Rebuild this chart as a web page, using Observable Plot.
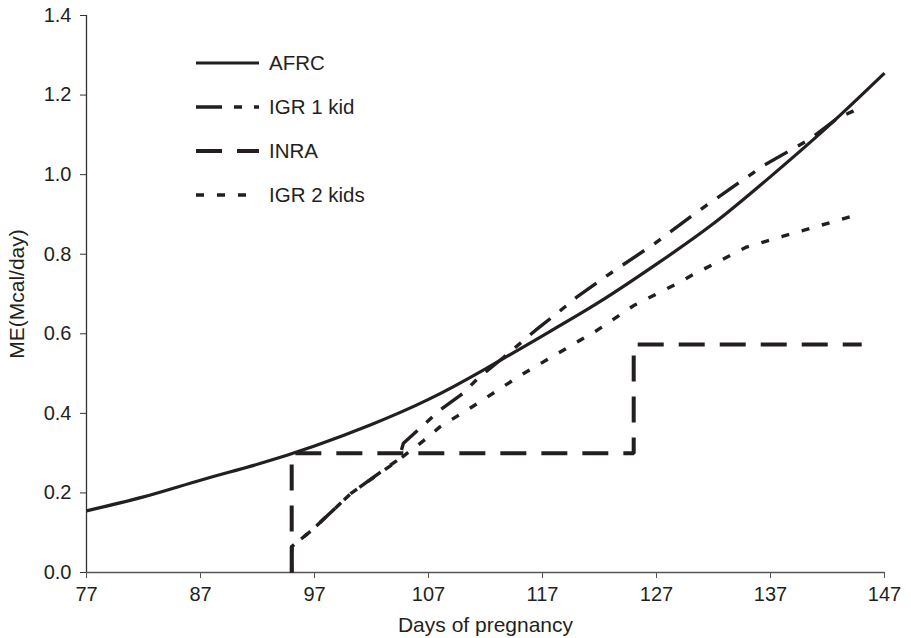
<!DOCTYPE html>
<html>
<head>
<meta charset="utf-8">
<script src="https://cdn.jsdelivr.net/npm/d3@7"></script>
<script src="https://cdn.jsdelivr.net/npm/@observablehq/plot@0.6"></script>
<style>
  body { margin: 0; background: #fff; }
  #wrap { width: 911px; height: 638px; }
  #wrap svg { font-family: "Liberation Sans", Arial, Helvetica, sans-serif; }
</style>
</head>
<body>
<div id="wrap"></div>
<script>
// ---- data ----
const afrcDays = [77, 82, 87, 92, 97, 102, 107, 112, 117, 122, 127, 132, 137, 142, 147];
const afrcME   = [0.155, 0.19, 0.232, 0.272, 0.318, 0.372, 0.435, 0.512, 0.595, 0.68, 0.775, 0.877, 0.995, 1.12, 1.255];

const igr1Days = [95, 95, 96.8, 100.2, 104.4, 104.8, 108, 110, 111.3, 113.6, 116.4, 118.6, 120, 122.7, 126.8, 130.3, 136.4, 140.5, 142.8, 145];
const igr1ME   = [0, 0.065, 0.107, 0.199, 0.285, 0.325, 0.408, 0.45, 0.487, 0.541, 0.609, 0.659, 0.692, 0.747, 0.826, 0.901, 1.023, 1.09, 1.14, 1.17];

const inraDays = [95, 95, 125, 125, 145];
const inraME   = [0, 0.30, 0.30, 0.573, 0.573];

const igr2Days = [95, 95, 96.8, 100.2, 104.1, 106.6, 108, 111.3, 115.1, 121.8, 125, 128.8, 130.1, 134.9, 138.8, 144.7];
const igr2ME   = [0, 0.065, 0.107, 0.199, 0.277, 0.332, 0.366, 0.425, 0.496, 0.609, 0.671, 0.726, 0.747, 0.818, 0.851, 0.90];

const xTicks = [77, 87, 97, 107, 117, 127, 137, 147];
const yTicks = [0, 0.2, 0.4, 0.6, 0.8, 1.0, 1.2, 1.4];

const seriesNames = ["AFRC", "IGR 1 kid", "INRA", "IGR 2 kids"];
const seriesDash  = [null, "26,12,8,12", "26,15", "8,13"];
const seriesWidth = [3.2, 3.4, 4, 3.4];

const ink = "#231f20";

const toRows = (days, me) => days.map((d, i) => ({day: d, me: me[i]}));
const seriesData = [
  toRows(afrcDays, afrcME),
  toRows(igr1Days, igr1ME),
  toRows(inraDays, inraME),
  toRows(igr2Days, igr2ME)
];

// legend drawn inside the frame as a render-function mark
function legendMark(index, scales, values, dims) {
  const g = d3.create("svg:g").attr("text-anchor", "start");
  const x0 = dims.marginLeft + 110, x1 = x0 + 63, y0 = dims.marginTop + 48, step = 44;
  seriesNames.forEach((name, i) => {
    const y = y0 + i * step;
    const l = g.append("line")
      .attr("x1", x0).attr("x2", x1).attr("y1", y).attr("y2", y)
      .attr("stroke", ink).attr("stroke-width", seriesWidth[i]);
    if (seriesDash[i]) l.attr("stroke-dasharray", seriesDash[i]);
    g.append("text").attr("x", x1 + 10).attr("y", y).attr("dy", "0.36em")
      .attr("text-anchor", "start")
      .attr("fill", ink).attr("font-size", 20.5).text(name);
  });
  return g.node();
}

const lineMarks = seriesData.map((rows, i) => Plot.line(rows, {
  x: "day", y: "me",
  stroke: ink,
  strokeWidth: seriesWidth[i],
  strokeDasharray: seriesDash[i] || undefined,
  curve: i === 0 ? "natural" : "linear",
  strokeLinejoin: "miter",
  strokeLinecap: "butt"
}));

const chart = Plot.plot({
  width: 911,
  height: 638,
  marginLeft: 86,
  marginRight: 27,
  marginTop: 15,
  marginBottom: 66,
  style: {fontFamily: "Liberation Sans, Arial, sans-serif", color: ink, background: "#fff"},
  x: {domain: [77, 147], ticks: xTicks},
  y: {domain: [0, 1.4], ticks: yTicks},
  marks: [
    Plot.axisX({
      ticks: xTicks, tickSize: 6, tickPadding: 8, fontSize: 20, stroke: "#555", color: ink,
      label: null
    }),
    Plot.axisX({
      ticks: [], fontSize: 21, color: ink,
      label: "Days of pregnancy", labelAnchor: "center", labelArrow: "none", labelOffset: 59
    }),
    Plot.axisY({
      ticks: yTicks, tickSize: 6, tickPadding: 9, fontSize: 20, stroke: "#333", color: ink,
      tickFormat: d => d.toFixed(1),
      label: null
    }),
    Plot.axisY({
      ticks: [], fontSize: 21, color: ink,
      label: "ME(Mcal/day)", labelAnchor: "center", labelArrow: "none", labelOffset: 77
    }),
    Plot.ruleY([0], {stroke: "#555", strokeWidth: 1.3}),
    Plot.ruleX([77], {stroke: "#333", strokeWidth: 1.3}),
    ...lineMarks,
    legendMark
  ]
});

document.getElementById("wrap").appendChild(chart);
</script>
</body>
</html>
